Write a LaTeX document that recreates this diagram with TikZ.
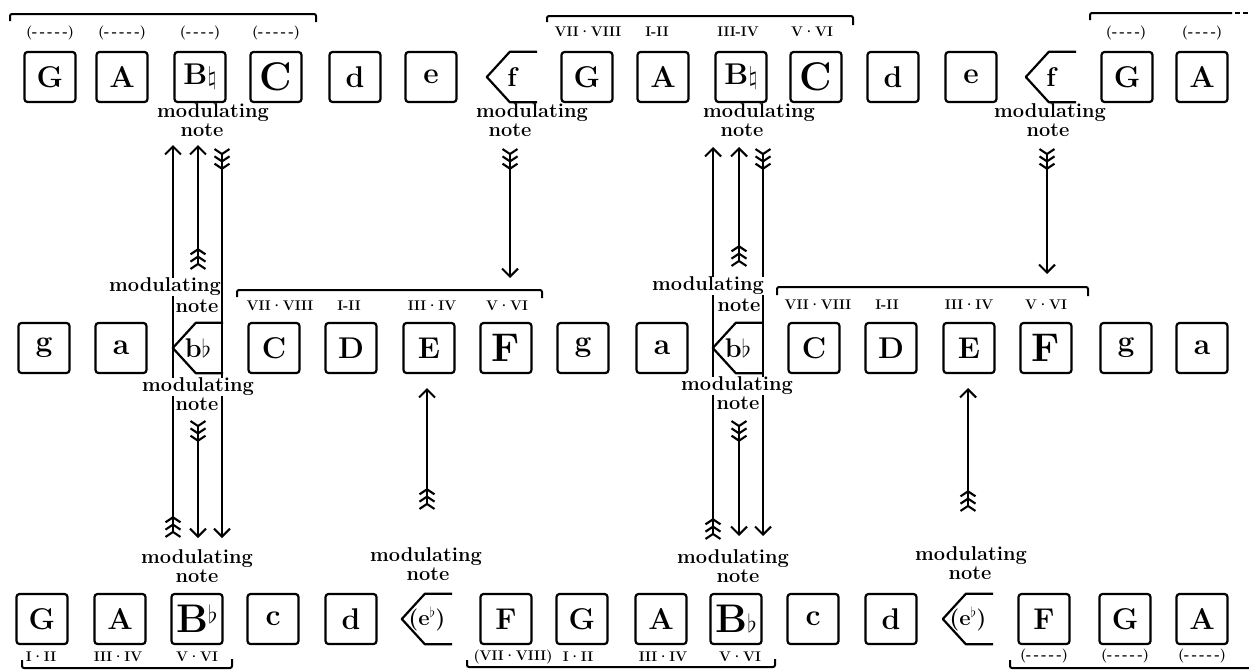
\documentclass[tikz,border=0pt]{standalone}
\usetikzlibrary{arrows.meta,calc}
\newcommand{\pentout}[1]{\draw[pentline] (#1.north east) -- ([xshift=23pt]#1.north west) -- (#1.west) -- ([xshift=23pt]#1.south west) -- (#1.south east);}
\newcommand{\dd}{\textperiodcentered}
\begin{document}
\begin{tikzpicture}[x=1pt,y=-1pt,
  box/.style={draw, line width=2.2pt, rounded corners=3pt, minimum width=51pt, minimum height=50pt, inner sep=0pt, font=\fontsize{30}{30}\selectfont\bfseries},
  pent/.style={minimum width=50pt, minimum height=50pt, inner sep=0pt, font=\fontsize{27}{27}\selectfont\bfseries},
  pentline/.style={line width=2.2pt, line join=round},
  big/.style={font=\fontsize{40}{40}\selectfont\bfseries},
  lab/.style={font=\fontsize{14}{14}\selectfont\bfseries, inner sep=0.5pt},
  mod/.style={font=\fontsize{20}{20}\selectfont\bfseries, inner sep=0.3pt, fill=white},
  nt/.style={font=\fontsize{20}{20}\selectfont\bfseries, inner sep=0.3pt},
  brk/.style={line width=2pt, rounded corners=2pt},
  feather/.tip={Straight Barb[reversed,length=5pt,width=15pt]},
  arr/.style={line width=2.1pt, {feather[]feather[]feather[]}-{Straight Barb[length=8pt,width=16pt]}}
]
\fill[white] (0,0) rectangle (1249,670);
\useasboundingbox (0,0) rectangle (1249,670);

% ---------- top row ----------
\node[box] (t1) at (50,77) {G};
\node[box] (t2) at (122,77) {A};
\node[box] (t3) at (200,77) {B$\natural$};
\node[box,big] (t4) at (276,77) {C};
\node[box] (t5) at (355,77) {d};
\node[box] (t6) at (431,77) {e};
\node[pent] (t7) at (512,77) {f};
\node[box] (t8) at (587,77) {G};
\node[box] (t9) at (663,77) {A};
\node[box] (t10) at (741,77) {B$\natural$};
\node[box,big] (t11) at (816,77) {C};
\node[box] (t12) at (893,77) {d};
\node[box] (t13) at (971,77) {e};
\node[pent] (t14) at (1051,77) {f};
\node[box] (t15) at (1127,77) {G};
\node[box] (t16) at (1202,77) {A};
\pentout{t7}\pentout{t14}

% ---------- middle row ----------
\node[box] (m1) at (44,348) {g};
\node[box] (m2) at (121,348) {a};
\node[pent] (m3) at (198,348) {b$\flat$};
\node[box] (m4) at (274,348) {C};
\node[box] (m5) at (351,348) {D};
\node[box] (m6) at (429,348) {E};
\node[box,big] (m7) at (506,348) {F};
\node[box] (m8) at (583,348) {g};
\node[box] (m9) at (662,348) {a};
\node[pent] (m10) at (738,348) {b$\flat$};
\node[box] (m11) at (814,348) {C};
\node[box] (m12) at (891,348) {D};
\node[box] (m13) at (969,348) {E};
\node[box,big] (m14) at (1046,348) {F};
\node[box] (m15) at (1126,348) {g};
\node[box] (m16) at (1202,348) {a};
\pentout{m3}\pentout{m10}

% ---------- bottom row ----------
\node[box] (b1) at (42,619) {G};
\node[box] (b2) at (120,619) {A};
\node[box,big] (b3) at (197,619) {B$^\flat$};
\node[box] (b4) at (273,619) {c};
\node[box] (b5) at (351,619) {d};
\node[pent,font=\fontsize{22}{22}\selectfont\bfseries] (b6) at (427,619) {(e$^\flat$)};
\node[box] (b7) at (506,619) {F};
\node[box] (b8) at (582,619) {G};
\node[box] (b9) at (661,619) {A};
\node[box,big] (b10) at (736,619) {B$\flat$};
\node[box] (b11) at (813,619) {c};
\node[box] (b12) at (891,619) {d};
\node[pent,font=\fontsize{22}{22}\selectfont\bfseries] (b13) at (968,619) {(e$^\flat$)};
\node[box] (b14) at (1044,619) {F};
\node[box] (b15) at (1125,619) {G};
\node[box] (b16) at (1202,619) {A};
\pentout{b6}\pentout{b13}

% ---------- brackets ----------
\draw[brk] (10,21) -- (10,14) -- (316,14) -- (316,22);
\draw[brk] (547,22) -- (547,16) -- (853,16) -- (853,25);
\draw[brk] (1090,20) -- (1090,13) -- (1232,13);
\draw[line width=2pt, dash pattern=on 5pt off 3pt] (1235,13) -- (1249,13);
\draw[brk] (237,297) -- (237,290) -- (542,290) -- (542,298);
\draw[brk] (777,295) -- (777,287) -- (1088,287) -- (1088,296);
\draw[brk] (22,660) -- (22,668) -- (232,668) -- (232,659);
\draw[brk] (467,660) -- (467,667) -- (775,667) -- (775,659);
\draw[brk] (1010,660) -- (1010,668) -- (1249,668);

% ---------- bracket labels ----------
\node[lab] (lt1) at (50,33) {(-\,-\,-\,-\,-)};
\node[lab] (lt2) at (122,33) {(-\,-\,-\,-\,-)};
\node[lab] (lt3) at (200,33) {(-\,-\,-\,-)};
\node[lab] (lt4) at (276,33) {(-\,-\,-\,-\,-)};
\node[lab] (lt5) at (588,32) {VII\dd VIII};
\node[lab] (lt6) at (657,32) {I-II};
\node[lab] (lt7) at (738,32) {III-IV};
\node[lab] (lt8) at (812,32) {V\dd VI};
\node[lab] (lt9) at (1126,33) {(-\,-\,-\,-)};
\node[lab] (lt10) at (1202,33) {(-\,-\,-\,-)};

\node[lab] (lm1) at (280,306) {VII\dd VIII};
\node[lab] (lm2) at (349,306) {I-II};
\node[lab] (lm3) at (432,306) {III\dd IV};
\node[lab] (lm4) at (507,306) {V\dd VI};
\node[lab] (lm5) at (818,305) {VII\dd VIII};
\node[lab] (lm6) at (887,305) {I-II};
\node[lab] (lm7) at (969,305) {III\dd IV};
\node[lab] (lm8) at (1046,305) {V\dd VI};

\node[lab] (lb1) at (41,657) {I\dd II};
\node[lab] (lb2) at (118,657) {III\dd IV};
\node[lab] (lb3) at (197,657) {V\dd VI};
\node[lab] (lb4) at (513,657) {(VII\dd VIII)};
\node[lab] (lb5) at (578,657) {I\dd II};
\node[lab] (lb6) at (663,657) {III\dd IV};
\node[lab] (lb7) at (740,657) {V\dd VI};
\node[lab] (lb8) at (1044,656) {(-\,-\,-\,-\,-)};
\node[lab] (lb9) at (1125,656) {(-\,-\,-\,-\,-)};
\node[lab] (lb10) at (1202,656) {(-\,-\,-\,-\,-)};

% ---------- arrow end points ----------
\coordinate (a1s) at (173,538); \coordinate (a1e) at (173,145);
\coordinate (a2s) at (198,270); \coordinate (a2e) at (198,145);
\coordinate (a3s) at (222,148); \coordinate (a3e) at (222,538);
\coordinate (a4s) at (198,420); \coordinate (a4e) at (198,538);
\coordinate (r1s) at (713,540); \coordinate (r1e) at (713,147);
\coordinate (r2s) at (739,267); \coordinate (r2e) at (739,147);
\coordinate (r3s) at (763,148); \coordinate (r3e) at (763,536);
\coordinate (r4s) at (739,420); \coordinate (r4e) at (739,536);
\coordinate (s1s) at (510,148); \coordinate (s1e) at (510,278);
\coordinate (s2s) at (1047,148); \coordinate (s2e) at (1047,274);
\coordinate (s3s) at (427,510); \coordinate (s3e) at (427,388);
\coordinate (s4s) at (968,512); \coordinate (s4e) at (968,388);

\foreach \a in {a1,a2,a3,a4,r1,r2,r3,r4,s1,s2,s3,s4}
  \draw[arr] (\a s) -- (\a e);

% ---------- modulating note labels ----------
\node[mod] (mt1) at (213,113) {modulating};
\node[nt]  (nt1) at (202,130) {note};
\node[mod] (mt2) at (532,113) {modulating};
\node[nt]  (nt2) at (510,130) {note};
\node[mod] (mt3) at (759,113) {modulating};
\node[nt]  (nt3) at (742,130) {note};
\node[mod] (mt4) at (1050,113) {modulating};
\node[nt]  (nt4) at (1048,130) {note};

\node[mod] (mm1) at (165,287) {modulating};
\node[nt]  (nm1) at (197,306) {note};
\node[mod] (mm2) at (198,387) {modulating};
\node[nt]  (nm2) at (197,404) {note};
\node[mod] (mm3) at (708,286) {modulating};
\node[nt]  (nm3) at (739,305) {note};
\node[mod] (mm4) at (737,386) {modulating};
\node[nt]  (nm4) at (738,403) {note};

\node[mod] (mb1) at (197,559) {modulating};
\node[nt]  (nb1) at (197,576) {note};
\node[mod] (mb2) at (426,557) {modulating};
\node[nt]  (nb2) at (428,574) {note};
\node[mod] (mb3) at (733,559) {modulating};
\node[nt]  (nb3) at (738,576) {note};
\node[mod] (mb4) at (971,556) {modulating};
\node[nt]  (nb4) at (970,573) {note};
\end{tikzpicture}
\end{document}
